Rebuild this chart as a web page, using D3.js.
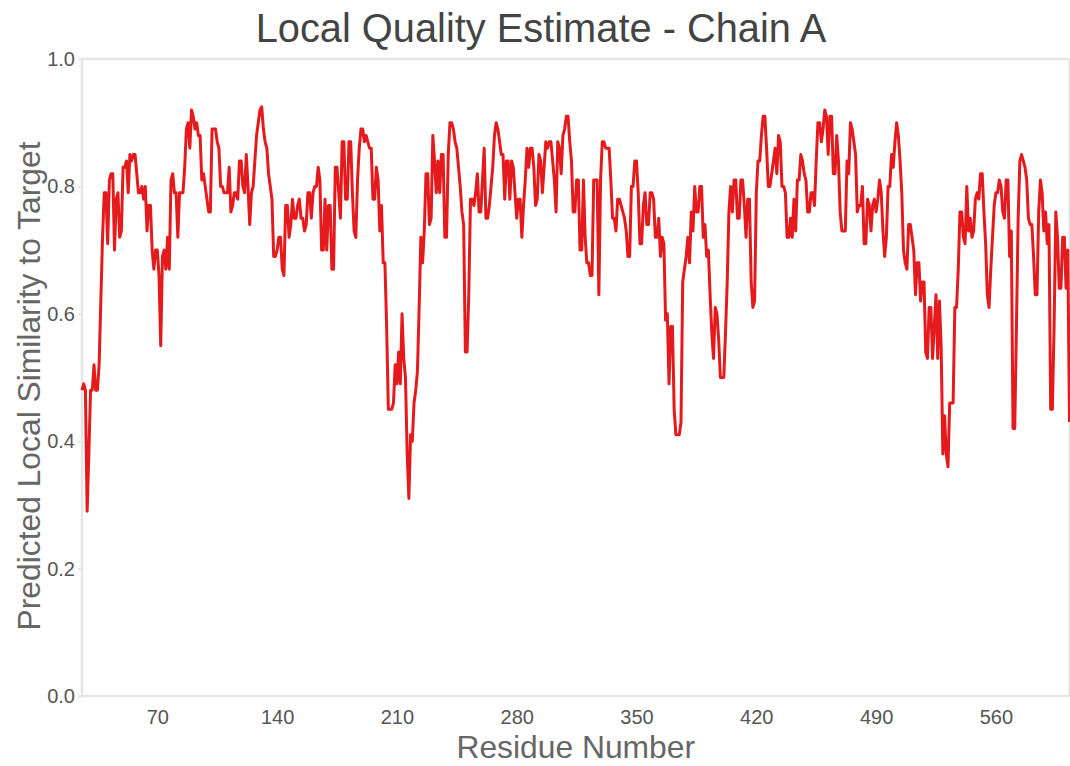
<!DOCTYPE html>
<html>
<head>
<meta charset="utf-8">
<script src="https://cdn.jsdelivr.net/npm/d3@7"></script>
<style>
  html, body { margin: 0; padding: 0; background: #ffffff; }
  svg { display: block; font-family: "Liberation Sans", Arial, Helvetica, sans-serif; }
</style>
</head>
<body>
<svg id="chart" width="1070" height="766"></svg>
<script>
// Per-residue predicted local similarity, chain A (residues 26-603)
const firstResidue = 26;
const scores = [
  0.48, 0.49, 0.48, 0.29, 0.38, 0.48, 0.48, 0.52, 0.48, 0.48, // 26
  0.52, 0.62, 0.72, 0.79, 0.79, 0.71, 0.81, 0.82, 0.82, 0.70, // 36
  0.78, 0.79, 0.72, 0.73, 0.83, 0.83, 0.84, 0.79, 0.85, 0.84, // 46
  0.85, 0.85, 0.82, 0.79, 0.79, 0.80, 0.78, 0.80, 0.73, 0.77, // 56
  0.77, 0.70, 0.67, 0.70, 0.70, 0.66, 0.55, 0.69, 0.70, 0.67, // 66
  0.72, 0.67, 0.81, 0.82, 0.79, 0.79, 0.72, 0.79, 0.79, 0.79, // 76
  0.83, 0.89, 0.90, 0.86, 0.92, 0.91, 0.89, 0.90, 0.88, 0.88, // 86
  0.81, 0.82, 0.80, 0.78, 0.76, 0.76, 0.89, 0.89, 0.89, 0.87, // 96
  0.86, 0.80, 0.80, 0.79, 0.79, 0.79, 0.83, 0.76, 0.77, 0.79, // 106
  0.79, 0.78, 0.84, 0.84, 0.80, 0.79, 0.85, 0.80, 0.74, 0.79, // 116
  0.80, 0.84, 0.88, 0.90, 0.92, 0.925, 0.89, 0.87, 0.86, 0.82, // 126
  0.80, 0.78, 0.69, 0.69, 0.70, 0.72, 0.72, 0.67, 0.66, 0.77, // 136
  0.77, 0.72, 0.74, 0.78, 0.75, 0.75, 0.77, 0.78, 0.75, 0.75, // 146
  0.73, 0.74, 0.79, 0.79, 0.75, 0.79, 0.80, 0.80, 0.83, 0.81, // 156
  0.70, 0.70, 0.78, 0.70, 0.77, 0.77, 0.67, 0.67, 0.83, 0.83, // 166
  0.79, 0.75, 0.87, 0.87, 0.78, 0.78, 0.87, 0.87, 0.79, 0.73, // 176
  0.72, 0.81, 0.86, 0.89, 0.89, 0.87, 0.88, 0.87, 0.86, 0.86, // 186
  0.78, 0.78, 0.83, 0.81, 0.73, 0.77, 0.68, 0.68, 0.58, 0.45, // 196
  0.45, 0.45, 0.46, 0.52, 0.49, 0.54, 0.49, 0.60, 0.53, 0.50, // 206
  0.38, 0.31, 0.41, 0.40, 0.46, 0.48, 0.51, 0.61, 0.72, 0.68, // 216
  0.73, 0.82, 0.82, 0.74, 0.75, 0.88, 0.84, 0.79, 0.84, 0.79, // 226
  0.85, 0.85, 0.72, 0.72, 0.85, 0.90, 0.90, 0.89, 0.87, 0.86, // 236
  0.83, 0.80, 0.76, 0.74, 0.54, 0.54, 0.63, 0.78, 0.78, 0.77, // 246
  0.79, 0.82, 0.76, 0.76, 0.81, 0.86, 0.75, 0.75, 0.77, 0.80, // 256
  0.83, 0.88, 0.90, 0.89, 0.87, 0.85, 0.85, 0.78, 0.84, 0.84, // 266
  0.78, 0.84, 0.83, 0.79, 0.75, 0.78, 0.78, 0.72, 0.77, 0.81, // 276
  0.86, 0.83, 0.86, 0.86, 0.83, 0.77, 0.78, 0.85, 0.84, 0.79, // 286
  0.83, 0.87, 0.86, 0.87, 0.87, 0.84, 0.81, 0.76, 0.87, 0.86, // 296
  0.82, 0.88, 0.89, 0.91, 0.91, 0.87, 0.84, 0.76, 0.76, 0.81, // 306
  0.81, 0.70, 0.70, 0.81, 0.72, 0.68, 0.68, 0.66, 0.66, 0.81, // 316
  0.81, 0.81, 0.63, 0.81, 0.87, 0.87, 0.86, 0.86, 0.86, 0.81, // 326
  0.75, 0.75, 0.73, 0.78, 0.78, 0.77, 0.76, 0.75, 0.73, 0.69, // 336
  0.69, 0.80, 0.80, 0.84, 0.84, 0.79, 0.71, 0.71, 0.77, 0.79, // 346
  0.74, 0.74, 0.79, 0.79, 0.78, 0.72, 0.72, 0.75, 0.69, 0.72, // 356
  0.71, 0.59, 0.60, 0.49, 0.58, 0.58, 0.45, 0.41, 0.41, 0.41, // 366
  0.43, 0.65, 0.67, 0.69, 0.72, 0.68, 0.76, 0.73, 0.80, 0.76, // 376
  0.76, 0.80, 0.80, 0.72, 0.74, 0.69, 0.70, 0.63, 0.57, 0.53, // 386
  0.61, 0.60, 0.56, 0.50, 0.50, 0.50, 0.57, 0.65, 0.76, 0.80, // 396
  0.76, 0.81, 0.81, 0.75, 0.75, 0.81, 0.81, 0.77, 0.72, 0.78, // 406
  0.78, 0.65, 0.61, 0.62, 0.79, 0.84, 0.84, 0.88, 0.91, 0.91, // 416
  0.86, 0.80, 0.80, 0.82, 0.84, 0.86, 0.82, 0.88, 0.87, 0.80, // 426
  0.80, 0.79, 0.72, 0.72, 0.75, 0.72, 0.78, 0.73, 0.81, 0.81, // 436
  0.85, 0.84, 0.82, 0.81, 0.76, 0.76, 0.79, 0.79, 0.77, 0.84, // 446
  0.90, 0.90, 0.87, 0.89, 0.92, 0.91, 0.85, 0.91, 0.91, 0.82, // 456
  0.82, 0.88, 0.84, 0.76, 0.73, 0.73, 0.73, 0.84, 0.82, 0.90, // 466
  0.89, 0.87, 0.85, 0.76, 0.77, 0.77, 0.80, 0.71, 0.71, 0.78, // 476
  0.77, 0.73, 0.77, 0.78, 0.76, 0.78, 0.81, 0.79, 0.73, 0.69, // 486
  0.72, 0.80, 0.80, 0.85, 0.83, 0.87, 0.90, 0.88, 0.84, 0.79, // 496
  0.70, 0.68, 0.67, 0.74, 0.74, 0.72, 0.70, 0.63, 0.68, 0.68, // 506
  0.62, 0.65, 0.65, 0.54, 0.53, 0.61, 0.61, 0.53, 0.58, 0.63, // 516
  0.53, 0.62, 0.55, 0.38, 0.44, 0.38, 0.36, 0.46, 0.46, 0.46, // 526
  0.61, 0.61, 0.67, 0.76, 0.76, 0.72, 0.71, 0.80, 0.73, 0.75, // 536
  0.72, 0.73, 0.78, 0.79, 0.78, 0.82, 0.82, 0.76, 0.71, 0.63, // 546
  0.61, 0.67, 0.72, 0.77, 0.79, 0.79, 0.81, 0.80, 0.76, 0.75, // 556
  0.81, 0.81, 0.69, 0.73, 0.42, 0.42, 0.58, 0.75, 0.84, 0.85, // 566
  0.84, 0.83, 0.81, 0.75, 0.74, 0.74, 0.69, 0.63, 0.63, 0.76, // 576
  0.81, 0.79, 0.73, 0.76, 0.71, 0.74, 0.45, 0.45, 0.58, 0.76, // 586
  0.72, 0.64, 0.64, 0.72, 0.72, 0.64, 0.70, 0.43              // 596
];
const residues = scores.map((_, i) => firstResidue + i);

const xTicks = [70, 140, 210, 280, 350, 420, 490, 560];
const yTicks = [0.0, 0.2, 0.4, 0.6, 0.8, 1.0];

const titleText = "Local Quality Estimate - Chain A";
const xLabel = "Residue Number";
const yLabel = "Predicted Local Similarity to Target";

const svg = d3.select("#chart");
const plot = { left: 82, right: 1069.5, top: 59, bottom: 696 };

const x = d3.scaleLinear()
  .domain([d3.min(residues), d3.max(residues)])
  .range([plot.left, plot.right]);
const y = d3.scaleLinear()
  .domain([0, 1])
  .range([plot.bottom, plot.top]);

// plot frame
svg.append("rect")
  .attr("x", plot.left)
  .attr("y", plot.top)
  .attr("width", plot.right - plot.left)
  .attr("height", plot.bottom - plot.top)
  .attr("fill", "none")
  .attr("stroke", "#e6e6e6")
  .attr("stroke-width", 2.5);

// axes
const xAxis = svg.append("g")
  .attr("transform", `translate(0,${plot.bottom})`)
  .call(d3.axisBottom(x).tickValues(xTicks).tickSize(0).tickPadding(14));
const yAxis = svg.append("g")
  .attr("transform", `translate(${plot.left},0)`)
  .call(d3.axisLeft(y).tickValues(yTicks).tickFormat(d3.format(".1f")).tickSize(4).tickPadding(3));

[xAxis, yAxis].forEach(g => {
  g.select(".domain").remove();
  g.selectAll("line").attr("stroke", "#e6e6e6").attr("stroke-width", 2);
  g.selectAll("text")
    .attr("fill", "#555555")
    .style("font-size", "20px");
});
xAxis.selectAll("text").attr("dy", "0.71em");

// score line
const line = d3.line()
  .x((d, i) => x(residues[i]))
  .y(d => y(d));

svg.append("path")
  .datum(scores)
  .attr("fill", "none")
  .attr("stroke", "#e41a1c")
  .attr("stroke-width", 3)
  .attr("stroke-linejoin", "round")
  .attr("d", line);

// titles
svg.append("text")
  .attr("x", 541)
  .attr("y", 42)
  .attr("text-anchor", "middle")
  .attr("fill", "#444444")
  .style("font-size", "39.8px")
  .text(titleText);

svg.append("text")
  .attr("x", (plot.left + plot.right) / 2)
  .attr("y", 758)
  .attr("text-anchor", "middle")
  .attr("fill", "#666666")
  .style("font-size", "31.8px")
  .text(xLabel);

svg.append("text")
  .attr("transform", `translate(40,${386}) rotate(-90)`)
  .attr("text-anchor", "middle")
  .attr("fill", "#666666")
  .style("font-size", "31.8px")
  .text(yLabel);
</script>
</body>
</html>
